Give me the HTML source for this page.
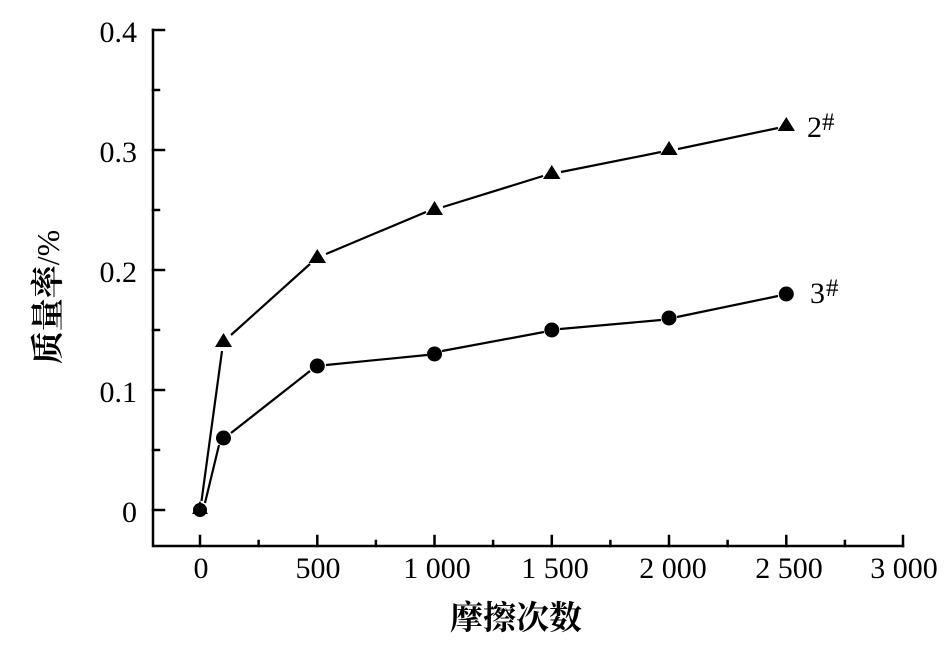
<!DOCTYPE html>
<html><head><meta charset="utf-8"><style>
html,body{margin:0;padding:0;background:#fff;}
svg{display:block;}
.t{font-family:"Liberation Serif","Noto Serif CJK SC",serif;font-size:30px;fill:#000;}
.c{font-family:"Liberation Serif","Noto Serif CJK SC",serif;font-weight:bold;font-size:33px;fill:#000;}
</style></head><body>
<svg width="950" height="649" viewBox="0 0 950 649" xmlns="http://www.w3.org/2000/svg">
<g stroke="#000" stroke-width="2.5" fill="none" stroke-linecap="square">
<polyline points="153,30 153,546 903,546"/>
<line x1="153" y1="30" x2="164" y2="30"/>
<line x1="153" y1="150" x2="164" y2="150"/>
<line x1="153" y1="270" x2="164" y2="270"/>
<line x1="153" y1="390" x2="164" y2="390"/>
<line x1="153" y1="510" x2="164" y2="510"/>
<line x1="153" y1="90" x2="159" y2="90"/>
<line x1="153" y1="210" x2="159" y2="210"/>
<line x1="153" y1="330" x2="159" y2="330"/>
<line x1="153" y1="450" x2="159" y2="450"/>
<line x1="200" y1="546" x2="200" y2="536"/>
<line x1="317.3" y1="546" x2="317.3" y2="536"/>
<line x1="434.5" y1="546" x2="434.5" y2="536"/>
<line x1="551.8" y1="546" x2="551.8" y2="536"/>
<line x1="669" y1="546" x2="669" y2="536"/>
<line x1="786.3" y1="546" x2="786.3" y2="536"/>
<line x1="903" y1="546" x2="903" y2="536"/>
<line x1="258.6" y1="546" x2="258.6" y2="541"/>
<line x1="375.9" y1="546" x2="375.9" y2="541"/>
<line x1="493.1" y1="546" x2="493.1" y2="541"/>
<line x1="610.4" y1="546" x2="610.4" y2="541"/>
<line x1="727.6" y1="546" x2="727.6" y2="541"/>
<line x1="844.9" y1="546" x2="844.9" y2="541"/>
</g>
<g class="t" text-anchor="end">
<text x="137" y="42">0.4</text>
<text x="137" y="162">0.3</text>
<text x="137" y="282">0.2</text>
<text x="137" y="402">0.1</text>
<text x="137" y="522">0</text>
</g>
<g class="t" text-anchor="middle">
<text x="201" y="578">0</text>
<text x="318" y="578">500</text>
<text x="437" y="578">1 000</text>
<text x="555" y="578">1 500</text>
<text x="673" y="578">2 000</text>
<text x="789" y="578">2 500</text>
<text x="904" y="578">3 000</text>
</g>
<text class="c" x="516" y="629" text-anchor="middle">摩擦次数</text>
<text class="c" transform="translate(59,297) rotate(-90)" text-anchor="middle">质量率<tspan font-weight="normal" font-size="32" font-family="Liberation Serif, serif">/%</tspan></text>
<g stroke="#000" stroke-width="2.2" fill="none">
<line x1="201.5" y1="501" x2="222" y2="351"/>
<line x1="231" y1="335" x2="310" y2="264"/>
<line x1="326" y1="254" x2="426" y2="212"/>
<line x1="443" y1="207" x2="543" y2="176"/>
<line x1="561" y1="172" x2="661" y2="152"/>
<line x1="678" y1="149" x2="778" y2="128"/>
<line x1="205" y1="503" x2="219" y2="445"/>
<line x1="231" y1="433" x2="310" y2="371"/>
<line x1="326" y1="365" x2="427" y2="355"/>
<line x1="442" y1="351" x2="544" y2="332"/>
<line x1="560" y1="329" x2="661" y2="320"/>
<line x1="677" y1="317" x2="778" y2="296"/>
</g>
<g fill="#000">
<circle cx="200" cy="510" r="7"/>
<circle cx="223.5" cy="438" r="7.5"/>
<circle cx="317.3" cy="366" r="7.5"/>
<circle cx="434.5" cy="354" r="7.5"/>
<circle cx="551.8" cy="330" r="7.5"/>
<circle cx="669" cy="318" r="7.5"/>
<circle cx="786.3" cy="294" r="7.5"/>
<polygon points="200,501 208,514 192,514"/>
<polygon points="223.5,333 232,347 215,347"/>
<polygon points="317.3,249 326,263 308.6,263"/>
<polygon points="434.5,201 443,215 426,215"/>
<polygon points="551.8,165 560.5,179 543,179"/>
<polygon points="669,141 677.7,155 660.3,155"/>
<polygon points="786.3,117 795,131 777.6,131"/>
</g>
<text class="t" x="807" y="137" font-size="31">2</text>
<text x="822" y="130" font-family="Liberation Serif, serif" font-size="25" fill="#000">#</text>
<text class="t" x="810" y="303" font-size="31">3</text>
<text x="826" y="296" font-family="Liberation Serif, serif" font-size="25" fill="#000">#</text>
</svg>
</body></html>
